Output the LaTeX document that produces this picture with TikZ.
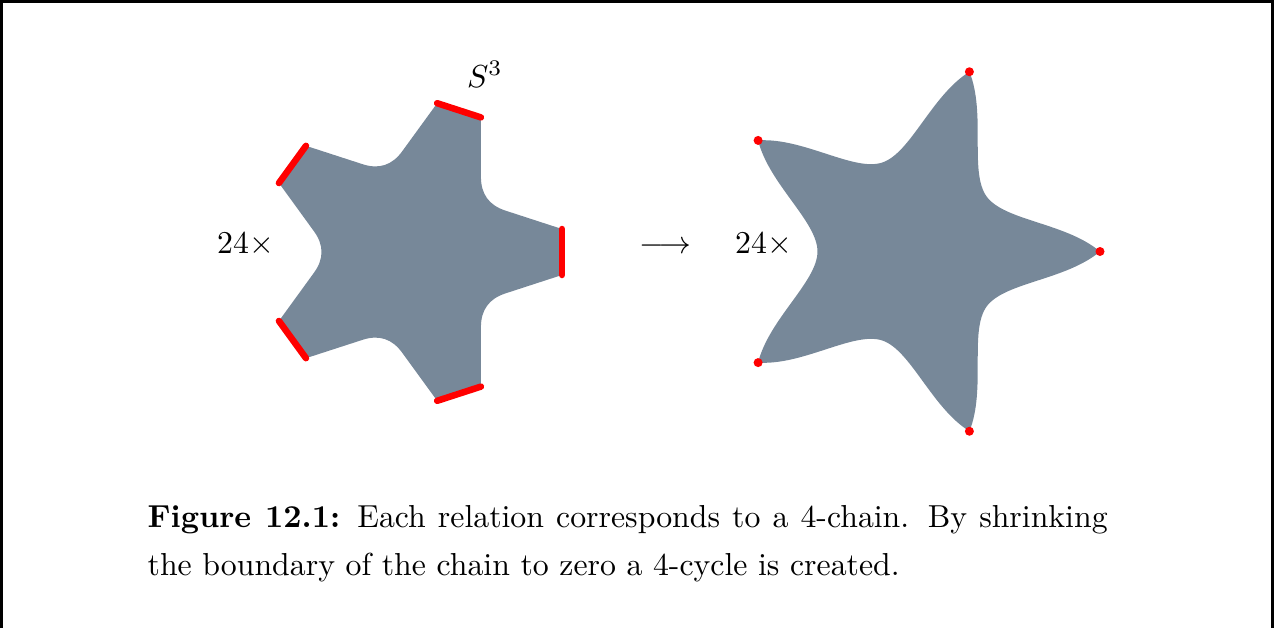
\documentclass[tikz,border=0pt]{standalone}
\usetikzlibrary{calc}
\definecolor{starfill}{HTML}{778899}
\begin{document}
\begin{tikzpicture}[x=0.31447pt,y=-0.31447pt,
  starbody/.style={fill=starfill},
  chainend/.style={draw=red, line width=2.05pt, line cap=round},
  cyclept/.style={fill=red},
  framebar/.style={draw=black, line width=0.94pt},
  lbl/.style={inner sep=0pt, font=\fontsize{10}{12}\selectfont}]
\useasboundingbox (0,0) rectangle (1275,628);
\draw[framebar] (1.5,628) -- (1.5,1.5) -- (1272.5,1.5) -- (1272.5,628);
% left star: 4-chain with boundary
\begin{scope}[shift={(413,252)}]
  \fill[starbody] (-8.775:150.76)
    \foreach \a in {0,72,...,288} {
      -- ({\a+8.775}:150.76) -- ({\a+24.19}:101.16)
      .. controls ({\a+31.56}:89.27) and ({\a+40.43}:89.27) .. ({\a+47.81}:101.16)
      -- ({\a+63.225}:150.76)
    } -- cycle;
  \foreach \a in {0,72,...,288}
    \draw[chainend] ({\a-8.775}:150.76) -- ({\a+8.775}:150.76);
\end{scope}
% right star: 4-cycle
\begin{scope}[shift={(911,251.5)}]
  \fill[starbody] (0:189)
    \foreach \a in {0,72,...,288} {
      .. controls ({\a+10.6}:157.18) and ({\a+18.21}:98.22) .. ({\a+36}:93.5)
      .. controls ({\a+53.79}:98.22) and ({\a+61.4}:157.18) .. ({\a+72}:189)
    } -- cycle;
  \foreach \a in {0,72,...,288}
    \fill[cyclept] (\a:189) circle[radius=4.5];
\end{scope}
\node[lbl, anchor=base west] (s3) at (466.5,87) {$S^3$};
\node[lbl, anchor=base] (m1) at (245.5,253) {$24\times$};
\node[lbl, anchor=base] (arr) at (665.5,253) {$\longrightarrow$};
\node[lbl, anchor=base] (m2) at (763.5,253) {$24\times$};
\node[lbl, anchor=base west] (cap) at (147,527.5) {\parbox[t]{301.9pt}{\baselineskip=15.1pt \textbf{Figure 12.1:} Each relation corresponds to a 4-chain. By shrinking\linebreak the boundary of the chain to zero a 4-cycle is created.}};
\end{tikzpicture}
\end{document}
